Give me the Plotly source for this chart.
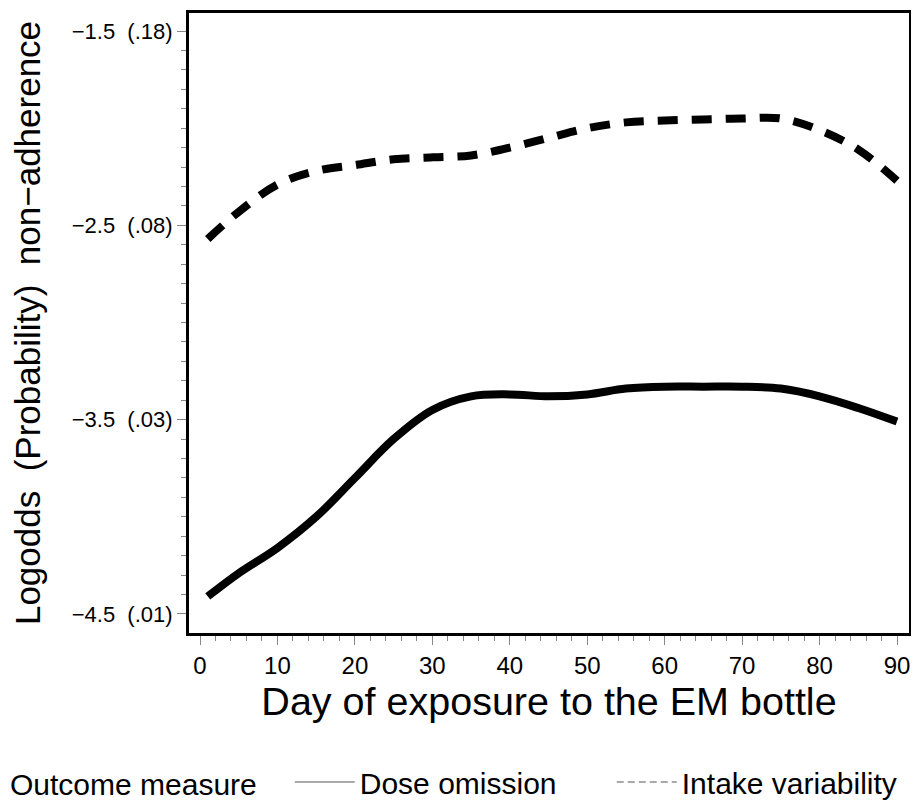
import plotly.graph_objects as go

days = [1, 5, 10, 15, 20, 25, 30, 35, 40, 45, 50, 55, 60, 65, 70, 75, 80, 85, 90]
dose_omission = [-4.41, -4.29, -4.16, -4.00, -3.80, -3.60, -3.45, -3.38, -3.37, -3.38, -3.37,
                 -3.34, -3.33, -3.33, -3.33, -3.34, -3.38, -3.44, -3.51]
intake_variability = [-2.57, -2.43, -2.29, -2.22, -2.19, -2.16, -2.15, -2.14, -2.10, -2.05, -2.00,
                      -1.97, -1.96, -1.955, -1.95, -1.95, -2.01, -2.11, -2.27]

y_tickvals = [-1.5, -2.5, -3.5, -4.5]
y_ticktext = ["\u22121.5  (.18)", "\u22122.5  (.08)", "\u22123.5  (.03)", "\u22124.5  (.01)"]
x_tickvals = [0, 10, 20, 30, 40, 50, 60, 70, 80, 90]

FONT = "Liberation Sans Narrow, Liberation Sans, Arial"

fig = go.Figure()
fig.add_trace(go.Scatter(x=days, y=dose_omission, mode="lines", showlegend=False,
                         line=dict(color="black", width=8, shape="spline")))
fig.add_trace(go.Scatter(x=days, y=intake_variability, mode="lines", showlegend=False,
                         line=dict(color="black", width=8, shape="spline", dash="20px,14px")))
# legend entries (thin samples like the original)
fig.add_trace(go.Scatter(x=[None], y=[None], mode="lines", name="Dose omission",
                         line=dict(color="#555", width=1)))
fig.add_trace(go.Scatter(x=[None], y=[None], mode="lines", name="Intake variability",
                         line=dict(color="#555", width=1, dash="7px,4px")))

fig.update_layout(
    width=903, height=795, autosize=False,
    margin=dict(l=181, r=2, t=5, b=170, autoexpand=False),
    paper_bgcolor="white", plot_bgcolor="white",
    font=dict(family=FONT, color="black"),
    showlegend=True,
    legend=dict(orientation="h", x=-0.2514, xanchor="left", y=-0.2403, yanchor="middle",
                font=dict(size=30, family=FONT),
                title=dict(text="Outcome measure   ", font=dict(size=30, family=FONT)),
                itemwidth=60, entrywidthmode="pixels", entrywidth=247),
    xaxis=dict(range=[-1.42, 91.55], tickvals=x_tickvals, ticks="outside", ticklen=9,
               tickwidth=1, tickcolor="#888", showgrid=False, zeroline=False, automargin=False,
               showline=True, linewidth=3, linecolor="black", mirror=True,
               ticklabeloverflow="allow",
               tickfont=dict(size=24, family=FONT),
               minor=dict(dtick=2, ticks="outside", ticklen=5, tickcolor="#888"),
               title=dict(text="Day of exposure to the EM bottle", font=dict(size=39.5, family=FONT),
                          standoff=10)),
    yaxis=dict(range=[-4.598, -1.407], tickvals=y_tickvals, ticktext=y_ticktext,
               ticks="outside", ticklen=9, tickwidth=1, tickcolor="#888",
               showgrid=False, zeroline=False, automargin=False,
               showline=True, linewidth=3, linecolor="black", mirror=True,
               tickfont=dict(size=22, family=FONT),
               minor=dict(dtick=0.1, ticks="outside", ticklen=5, tickcolor="#888"),
               title=dict(text="Logodds  (Probability)  non\u2212adherence",
                          font=dict(size=35, family=FONT), standoff=40)),
)

fig.write_html("out.html")
